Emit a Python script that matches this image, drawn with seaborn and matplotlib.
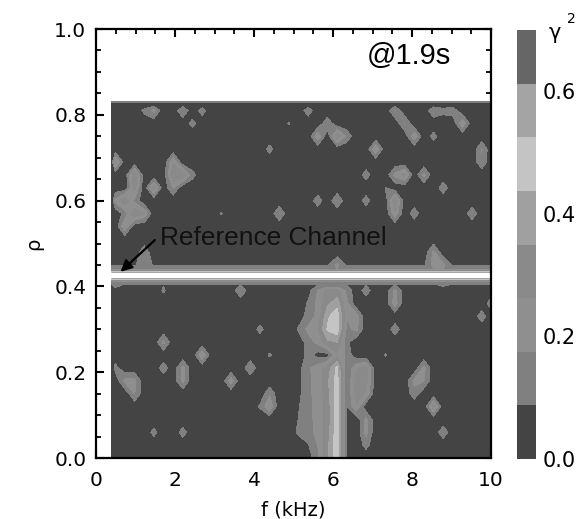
import numpy as np
import matplotlib
matplotlib.use("Agg")
import matplotlib.pyplot as plt
from matplotlib.cm import ScalarMappable
from matplotlib.colors import ListedColormap, BoundaryNorm
import seaborn as sns

# frequency columns (kHz) and radial rows of the coherence map
F_COLS = [0.40, 0.488, 0.732, 0.977, 1.221, 1.465, 1.709, 1.953, 2.197, 2.441, 2.686,
          2.930, 3.174, 3.418, 3.662, 3.906, 4.150, 4.395, 4.639, 4.883, 5.127, 5.371,
          5.615, 5.859, 6.104, 6.348, 6.592, 6.836, 7.080, 7.324, 7.568, 7.813, 8.057,
          8.301, 8.545, 8.789, 9.033, 9.277, 9.521, 9.766, 10.0]
RHO_ROWS = [0.0, 0.03, 0.06, 0.09, 0.12, 0.15, 0.18, 0.21, 0.24, 0.27, 0.30, 0.33, 0.36,
            0.39, 0.405, 0.41, 0.415, 0.421, 0.426, 0.43, 0.435, 0.44, 0.45, 0.48, 0.51,
            0.54, 0.57, 0.60, 0.63, 0.66, 0.69, 0.72, 0.75, 0.78, 0.81, 0.826, 0.83]
ROW_GAMMA = [0.02, 0.02, 0.02, 0.02, 0.02, 0.02, 0.02, 0.02, 0.02, 0.02, 0.02, 0.02, 0.02,
             0.03, 0.08, 0.15, 0.30, 0.72, 1.0, 0.72, 0.35, 0.17, 0.07, 0.02, 0.02,
             0.02, 0.02, 0.02, 0.02, 0.02, 0.02, 0.02, 0.02, 0.02, 0.02, 0.02, 0.16]

# isolated coherence spots above the reference channel
UPPER_F = [1.221, 1.465, 2.197, 2.686, 2.441, 5.371, 5.859, 4.883, 5.615, 6.104, 6.348, 7.080, 4.395,
           7.568, 7.813, 8.057, 8.545, 8.545, 8.789, 9.033, 9.277, 9.766, 9.766, 0.488,
           0.977, 0.977, 1.465, 1.953, 1.953, 2.197, 1.953, 2.441, 0.488, 0.732, 0.732, 0.977,
           1.221, 0.977, 0.732, 3.174, 4.639, 5.615, 6.104, 6.836, 6.836, 7.324, 7.568, 7.813,
           8.301, 8.789, 7.568, 7.568, 8.057, 9.521, 1.221, 1.221, 6.104, 8.545, 8.789, 8.545]
UPPER_RHO = [0.81, 0.81, 0.81, 0.81, 0.78, 0.81, 0.78, 0.78, 0.75, 0.75, 0.75, 0.72, 0.72,
             0.81, 0.78, 0.75, 0.75, 0.81, 0.81, 0.81, 0.78, 0.72, 0.69, 0.69,
             0.66, 0.63, 0.63, 0.69, 0.66, 0.66, 0.63, 0.66, 0.60, 0.60, 0.57, 0.57,
             0.57, 0.60, 0.54, 0.57, 0.57, 0.60, 0.60, 0.66, 0.60, 0.63, 0.66, 0.66,
             0.66, 0.63, 0.60, 0.57, 0.57, 0.57, 0.45, 0.48, 0.45, 0.45, 0.45, 0.48]
UPPER_GAMMA = [0.11, 0.2, 0.17, 0.13, 0.12, 0.14, 0.15, 0.095, 0.24, 0.34, 0.15, 0.25, 0.12,
               0.18, 0.18, 0.24, 0.12, 0.16, 0.12, 0.14, 0.24, 0.18, 0.16, 0.3,
               0.34, 0.3, 0.3, 0.25, 0.34, 0.34, 0.18, 0.12, 0.2, 0.34, 0.12, 0.34,
               0.25, 0.15, 0.25, 0.095, 0.17, 0.14, 0.17, 0.13, 0.13, 0.09, 0.2, 0.3,
               0.2, 0.14, 0.34, 0.24, 0.14, 0.15, 0.17, 0.15, 0.2, 0.2, 0.2, 0.2]

# isolated coherence spots below the reference channel
LOWER_F = [1.709, 3.662, 6.836, 7.568, 7.568, 4.150, 7.568, 1.709, 2.686, 4.395, 7.324, 0.488, 1.709,
           2.197, 2.197, 3.418, 3.906, 0.732, 0.977, 0.977, 4.395, 4.395, 4.150, 8.301, 8.301,
           8.057, 8.057, 8.545, 8.789, 1.465, 2.197, 6.592, 6.592, 6.836, 6.836, 6.836, 6.592,
           6.592, 6.592, 6.592, 6.836, 6.836, 6.836, 9.766, 10.0, 0.488, 8.789]
LOWER_RHO = [0.39, 0.39, 0.39, 0.36, 0.39, 0.30, 0.30, 0.27, 0.24, 0.24, 0.24, 0.21, 0.21,
             0.21, 0.18, 0.18, 0.21, 0.18, 0.18, 0.15, 0.15, 0.12, 0.12, 0.21, 0.18,
             0.18, 0.15, 0.12, 0.06, 0.06, 0.06, 0.33, 0.30, 0.21, 0.18, 0.15, 0.21,
             0.18, 0.15, 0.12, 0.09, 0.06, 0.03, 0.33, 0.36, 0.405, 0.405]
LOWER_GAMMA = [0.1, 0.16, 0.13, 0.22, 0.2, 0.12, 0.14, 0.2, 0.25, 0.1, 0.095, 0.12, 0.14,
               0.2, 0.2, 0.22, 0.17, 0.2, 0.2, 0.18, 0.16, 0.25, 0.1, 0.2, 0.18,
               0.2, 0.14, 0.3, 0.15, 0.12, 0.13, 0.22, 0.2, 0.3, 0.3, 0.25, 0.25,
               0.3, 0.3, 0.25, 0.2, 0.2, 0.12, 0.14, 0.14, 0.15, 0.12]

# broad structure around 6 kHz: one row of CORE_GAMMA per CORE_RHO
CORE_F = [5.127, 5.371, 5.615, 5.859, 6.104, 6.348]
CORE_RHO = [0.0, 0.03, 0.06, 0.09, 0.12, 0.15, 0.18, 0.21, 0.24, 0.27, 0.30, 0.33, 0.36, 0.39]
CORE_GAMMA = [
    [0.02, 0.04, 0.15, 0.33, 0.50, 0.085],
    [0.02, 0.08, 0.18, 0.33, 0.50, 0.085],
    [0.11, 0.14, 0.20, 0.30, 0.50, 0.085],
    [0.09, 0.15, 0.20, 0.30, 0.48, 0.085],
    [0.08, 0.15, 0.20, 0.30, 0.48, 0.085],
    [0.06, 0.16, 0.20, 0.32, 0.48, 0.085],
    [0.05, 0.16, 0.20, 0.33, 0.48, 0.085],
    [0.05, 0.16, 0.22, 0.30, 0.46, 0.085],
    [0.02, 0.12, 0.05, 0.05, 0.25, 0.15],
    [0.03, 0.13, 0.20, 0.33, 0.35, 0.11],
    [0.10, 0.20, 0.25, 0.45, 0.50, 0.15],
    [0.04, 0.12, 0.20, 0.42, 0.50, 0.18],
    [0.02, 0.10, 0.20, 0.33, 0.40, 0.20],
    [0.02, 0.05, 0.18, 0.30, 0.30, 0.15],
]

# contour levels and colorbar bands, bottom to top
LEVELS = [0.0, 0.0875, 0.175, 0.2625, 0.35, 0.4375, 0.525, 0.6125, 0.70]
BAND_COLORS = ["#444444", "#808080", "#8f8f8f", "#8a8a8a", "#a0a0a0", "#c4c4c4", "#a4a4a4", "#666666"]
BAR_TICKS = [0.0, 0.2, 0.4, 0.6]
BAR_LABELS = ["0.0", "0.2", "0.4", "0.6"]
X_TICKS = [0, 2, 4, 6, 8, 10]
X_MINOR = [0.5, 1, 1.5, 2.5, 3, 3.5, 4.5, 5, 5.5, 6.5, 7, 7.5, 8.5, 9, 9.5]
Y_TICKS = [0.0, 0.2, 0.4, 0.6, 0.8, 1.0]
Y_MINOR = [0.05, 0.1, 0.15, 0.25, 0.3, 0.35, 0.45, 0.5, 0.55, 0.65, 0.7, 0.75, 0.85, 0.9, 0.95]

sns.set_theme(style="ticks", rc={"axes.linewidth": 1.6, "text.color": "black", "axes.labelcolor": "black",
                                 "xtick.color": "black", "ytick.color": "black", "axes.edgecolor": "black"})
plt.rcParams["font.family"] = ["DejaVu Sans"]

# build the grid from the row profile plus the read-off spots
gamma = np.tile(np.array(ROW_GAMMA)[:, None], (1, len(F_COLS)))
f_arr = np.array(F_COLS)
rho_arr = np.array(RHO_ROWS)
for f0, r0, g0 in zip(UPPER_F + LOWER_F, UPPER_RHO + LOWER_RHO, UPPER_GAMMA + LOWER_GAMMA):
    i = np.argmin(np.abs(rho_arr - r0))
    j = np.argmin(np.abs(f_arr - f0))
    gamma[i, j] = max(gamma[i, j], g0)
for r0, row in zip(CORE_RHO, CORE_GAMMA):
    i = np.argmin(np.abs(rho_arr - r0))
    for f0, g0 in zip(CORE_F, row):
        gamma[i, np.argmin(np.abs(f_arr - f0))] = g0

fig = plt.figure(figsize=(5.82, 5.19), dpi=100)
ax = fig.add_axes([96 / 582, 1 - 458 / 519, 395 / 582, 429 / 519])
cax = fig.add_axes([517 / 582, 1 - 459 / 519, 19 / 582, 429 / 519])

cmap = ListedColormap(sns.color_palette(BAND_COLORS))
cmap.set_over("white")
norm = BoundaryNorm(LEVELS, cmap.N)
ax.contourf(f_arr, rho_arr, gamma, levels=LEVELS, cmap=cmap, norm=norm, extend="max")

ax.set_xlim(0, 10)
ax.set_ylim(0, 1)
ax.set_xticks(X_TICKS, [str(t) for t in X_TICKS])
ax.set_xticks(X_MINOR, minor=True)
ax.set_yticks(Y_TICKS, [f"{t:.1f}" for t in Y_TICKS])
ax.set_yticks(Y_MINOR, minor=True)
ax.tick_params(which="major", direction="in", top=True, right=True, length=6, width=1.5, labelsize=14.5, pad=7)
ax.tick_params(axis="x", which="major", pad=9)
ax.tick_params(which="minor", direction="in", top=True, right=True, length=3.5, width=1.3)
sns.despine(ax=ax, top=False, right=False)
ax.set_xlabel("f (kHz)", fontsize=14, labelpad=8)
ax.set_ylabel("ρ", fontsize=14, labelpad=8)

ax.text(7.93, 0.938, "@1.9s", family="Liberation Sans", fontsize=21, ha="center", va="center")
ax.text(1.62, 0.513, "Reference Channel", family="Liberation Sans", fontsize=18.9, ha="left",
        va="center", color="#111111")
ax.annotate("", xy=(0.62, 0.434), xytext=(1.49, 0.508),
            arrowprops=dict(arrowstyle="-|>", color="black", lw=1.6, mutation_scale=17, shrinkA=0, shrinkB=0))

# colorbar only shows the eight bands, white core of the channel stays off it
cbar = fig.colorbar(ScalarMappable(norm=norm, cmap=cmap), cax=cax, extend="neither", spacing="proportional")
cbar.set_ticks(BAR_TICKS, labels=BAR_LABELS)
cbar.ax.minorticks_off()
cbar.ax.tick_params(which="both", length=0, labelsize=15, pad=5)
cbar.outline.set_visible(False)
fig.text(555 / 582, 1 - 33 / 519, "γ", fontsize=15, ha="center", va="center")
fig.text(571 / 582, 1 - 19 / 519, "2", fontsize=10, ha="center", va="center")

plt.savefig("out.png", dpi=100)
plt.close()
